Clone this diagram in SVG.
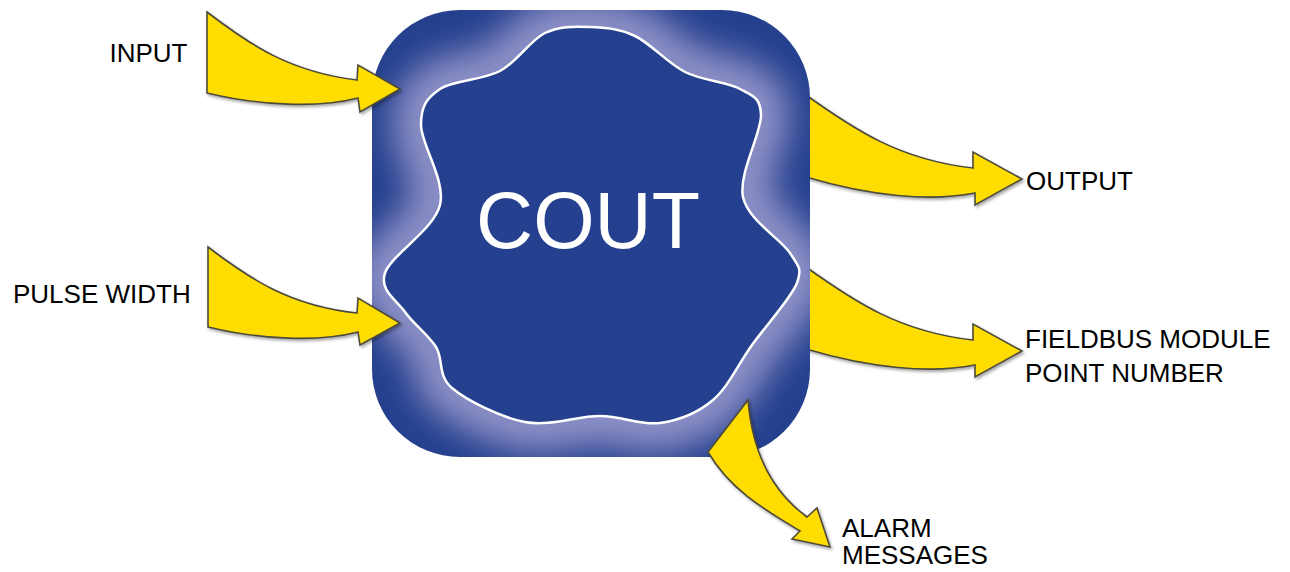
<svg xmlns="http://www.w3.org/2000/svg" width="1290" height="572" viewBox="0 0 1290 572">
<style>
.lbl{font-family:"Liberation Sans",Arial,sans-serif;font-size:26px;fill:#000}
.arrow{fill:#FFDD00;stroke:#4d4a3a;stroke-width:1.6;stroke-linejoin:miter;filter:url(#shadow)}
.title{font-family:"Liberation Sans",Arial,sans-serif;font-size:79px;fill:#fff}
</style>
<defs>
<filter id="shadow" x="-10%" y="-10%" width="130%" height="130%">
<feDropShadow dx="1.5" dy="2" stdDeviation="1.5" flood-color="#000" flood-opacity="0.35"/>
</filter>
<filter id="glow" x="-20%" y="-20%" width="140%" height="140%">
<feGaussianBlur stdDeviation="17"/>
</filter>
<clipPath id="boxclip"><rect x="372" y="10" width="438" height="447" rx="88" ry="88"/></clipPath>
<path id="wave" d="M590,27 C605,27.5 619.2,28.5 635,36 C650.8,43.5 667.5,63.2 685,72 C702.5,80.8 727.3,81.8 740,89 C752.7,96.2 760.5,97 761,115 C761.5,133 738.2,174 743,197 C747.8,220 780.8,238.8 790,253 C799.2,267.2 802,268 797,283 C791.7,297.3 766.2,325.3 752,345 C737.8,364.7 728.3,387 713,400 C697.7,413 678.8,420.3 660,423 C641.2,425.7 622.5,416.2 600,416 C577.5,415.8 549.7,426.7 525,422 C500.3,417.3 466.8,400.5 452,388 C437.2,375.5 443.8,359.7 436,347 C428.2,334.3 413.5,324.3 405,312 C396.5,299.7 379.2,290.8 385,273 C390.8,255.2 434,229.7 440,205 C446,180.3 421,144.3 421,125 C421,105.7 426.8,98 440,89 C453.2,80 482.5,80.3 500,71 C517.5,61.7 530,40.3 545,33 C560,25.7 575,26.5 590,27 Z"/>
</defs>
<rect width="1290" height="572" fill="#fff"/>
<g id="connectors-under">
<path id="arrow-output" class="arrow" d="M806,95 C855,130 900,160 973,168 L973,152 L1022,179 L975,205 L975,193 C930,202 870,196 806,177 Z"/>
<path id="arrow-fieldbus" class="arrow" d="M806,267 C855,302 900,332 973,340 L973,324 L1022,351 L975,377 L975,365 C930,374 870,368 806,349 Z"/>
</g>
<g id="cout">
<rect x="372" y="10" width="438" height="447" rx="88" ry="88" fill="#24408E"/>
<g clip-path="url(#boxclip)">
<use href="#wave" fill="none" stroke="#9092c8" stroke-width="56" filter="url(#glow)"/>
</g>
<use href="#wave" fill="#24408F" stroke="#ffffff" stroke-width="2.5"/>
<text class="title" x="588" y="248" text-anchor="middle">COUT</text>
</g>
<g id="connectors">
<path id="arrow-input" class="arrow" d="M207,12 C250,45 290,72 357,80 L358,65 L400,89 L360,112 L358,98 C320,108 260,106 207,93 Z"/>
<path id="arrow-pulse" class="arrow" d="M208,247 C251,280 291,306 357,313 L358,298 L400,323 L360,345 L358,332 C320,342 261,340 208,327 Z"/>
<path id="arrow-alarm" class="arrow" d="M748,400 C752,450 770,490 807,517 L817,508 L830,547 L792,539 L800,531 C765,510 730,490 708,452 Z"/>
</g>
<g id="label-input"><text class="lbl" x="109.5" y="62">INPUT</text></g>
<g id="label-pulse"><text class="lbl" x="13" y="303">PULSE WIDTH</text></g>
<g id="label-output"><text class="lbl" x="1026" y="190">OUTPUT</text></g>
<g id="label-fieldbus"><text class="lbl" x="1025" y="348">FIELDBUS MODULE</text><text class="lbl" x="1025" y="382">POINT NUMBER</text></g>
<g id="label-alarm"><text class="lbl" x="842" y="537">ALARM</text><text class="lbl" x="842" y="564">MESSAGES</text></g>
</svg>
